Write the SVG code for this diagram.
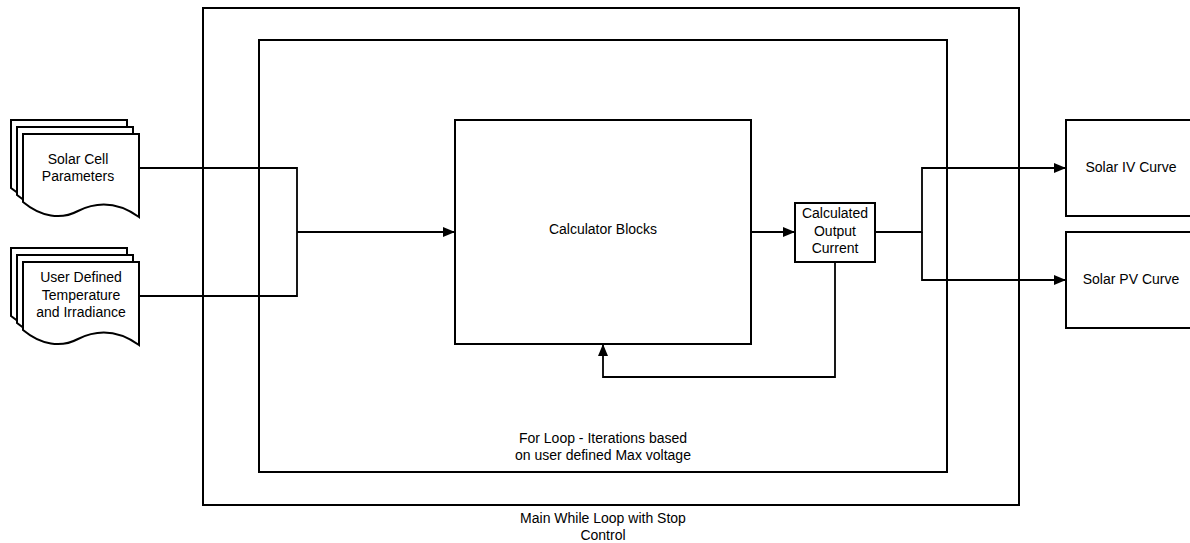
<svg xmlns="http://www.w3.org/2000/svg" width="1190" height="543" viewBox="0 0 1190 543">
<defs>
<style>
.box{fill:#fff;stroke:#000;stroke-width:2}
.frame{fill:none;stroke:#000;stroke-width:2}
.doc{fill:#fff;stroke:#000;stroke-width:2;stroke-linejoin:miter}
.edge{fill:none;stroke:#000;stroke-width:1.8}
text{font-family:"Liberation Sans",Arial,sans-serif;font-size:14px;fill:#000;text-anchor:middle}
</style>
<marker id="arr" viewBox="0 0 12 10" refX="12" refY="5" markerWidth="12" markerHeight="10" markerUnits="userSpaceOnUse" orient="auto">
<path d="M0,0 L12,5 L0,10 Z" fill="#000"/>
</marker>
<path id="docshape" d="M0,0 H116 V83 C95,68 75,67 55,77 C38,86 18,83 0,68 Z"/>
</defs>
<rect width="1190" height="543" fill="#fff"/>
<g id="mainloop">
<rect class="frame" x="203" y="8" width="816" height="497"/>
<text x="603" y="523">Main While Loop with Stop</text>
<text x="603" y="540">Control</text>
</g>
<g id="forloop">
<rect class="frame" x="259" y="40" width="688" height="432"/>
<text x="603" y="443">For Loop - Iterations based</text>
<text x="603" y="460">on user defined Max voltage</text>
</g>
<g id="params">
<use href="#docshape" class="doc" x="11" y="120"/>
<use href="#docshape" class="doc" x="17" y="127"/>
<use href="#docshape" class="doc" x="23" y="134"/>
<text x="78" y="164">Solar Cell</text>
<text x="78" y="181">Parameters</text>
</g>
<g id="userdef">
<use href="#docshape" class="doc" x="11" y="248"/>
<use href="#docshape" class="doc" x="17" y="255"/>
<use href="#docshape" class="doc" x="23" y="262"/>
<text x="81" y="282">User Defined</text>
<text x="81" y="300">Temperature</text>
<text x="81" y="317">and Irradiance</text>
</g>
<g id="calc">
<rect class="box" x="455" y="120" width="296" height="224"/>
<text x="603" y="234">Calculator Blocks</text>
</g>
<g id="output">
<rect class="box" x="795" y="203" width="80" height="59"/>
<text x="835" y="218">Calculated</text>
<text x="835" y="236">Output</text>
<text x="835" y="253">Current</text>
</g>
<g id="ivcurve">
<rect class="box" x="1066" y="120" width="130" height="96"/>
<text x="1131" y="172">Solar IV Curve</text>
</g>
<g id="pvcurve">
<rect class="box" x="1066" y="232" width="130" height="96"/>
<text x="1131" y="284">Solar PV Curve</text>
</g>
<g id="connectors">
<path class="edge" d="M139,168 H297 V296 H139"/>
<path class="edge" d="M297,232 H455" marker-end="url(#arr)"/>
<path class="edge" d="M751,232 H795" marker-end="url(#arr)"/>
<path class="edge" d="M875,232 H922 V168 H1066" marker-end="url(#arr)"/>
<path class="edge" d="M922,232 V280 H1066" marker-end="url(#arr)"/>
<path class="edge" d="M835,262 V377 H603 V344" marker-end="url(#arr)"/>
</g>
</svg>
